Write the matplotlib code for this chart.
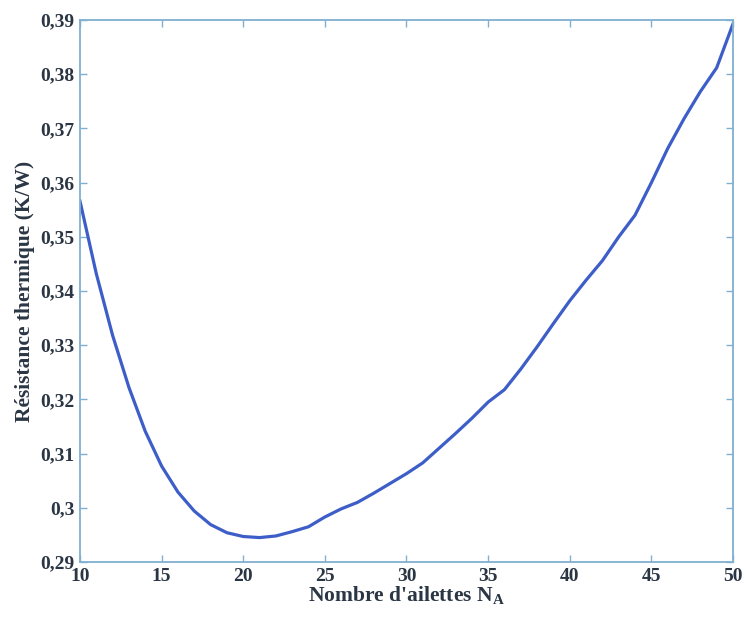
import matplotlib
matplotlib.use("Agg")
import matplotlib.pyplot as plt

n_ailettes = list(range(10, 51))
resistance = [0.3566, 0.3432, 0.3318, 0.3222, 0.3141, 0.3077, 0.3029, 0.2994, 0.2969, 0.2954,
              0.2947, 0.2945, 0.2948, 0.2956, 0.2965, 0.2983, 0.2998, 0.3010, 0.3027, 0.3045,
              0.3063, 0.3083, 0.3110, 0.3137, 0.3165, 0.3195, 0.3218, 0.3256, 0.3297, 0.3340,
              0.3382, 0.3420, 0.3456, 0.3500, 0.3540, 0.3600, 0.3663, 0.3718, 0.3768, 0.3812,
              0.3893]
xticks = [10, 15, 20, 25, 30, 35, 40, 45, 50]
yticks = [0.29, 0.30, 0.31, 0.32, 0.33, 0.34, 0.35, 0.36, 0.37, 0.38, 0.39]
ytick_labels = ["0,29", "0,3", "0,31", "0,32", "0,33", "0,34", "0,35", "0,36", "0,37", "0,38", "0,39"]

plt.rcParams['font.family'] = ['Liberation Serif', 'DejaVu Serif']
plt.rcParams['mathtext.fontset'] = 'custom'
plt.rcParams['mathtext.rm'] = 'Liberation Serif'
plt.rcParams['mathtext.bf'] = 'Liberation Serif:bold'

fig = plt.figure(figsize=(7.46, 6.22), dpi=100)
ax = fig.add_axes([0.1072, 0.0965, 0.8754, 0.8713])

ax.plot(n_ailettes, resistance, color='#3d5ec8', linewidth=2.3, solid_joinstyle='round')

ax.set_xlim(10, 50)
ax.set_ylim(0.29, 0.39)
ax.set_xticks(xticks)
ax.set_xticklabels([str(t) for t in xticks])
ax.set_yticks(yticks)
ax.set_yticklabels(ytick_labels)

spine_color = '#7fb0d0'
for s in ax.spines.values():
    s.set_color(spine_color)
    s.set_linewidth(1.3)
ax.tick_params(direction='in', length=5, width=1, color=spine_color,
               top=True, right=True, labelsize=14, labelcolor='#2b3644', pad=4)
for lab in ax.get_xticklabels() + ax.get_yticklabels():
    lab.set_fontweight('bold')

ax.set_xlabel("Nombre d'ailettes N$_{\\mathbf{A}}$", fontsize=15.5, fontweight='bold',
              color='#2b3644', labelpad=0)
ax.set_ylabel("Résistance thermique (K/W)", fontsize=15.5, fontweight='bold',
              color='#2b3644', labelpad=4)

fig.savefig("out.png", dpi=100, facecolor='white')
